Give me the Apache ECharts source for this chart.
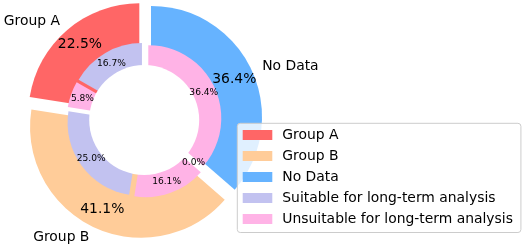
<!DOCTYPE html>
<html>
<head>
<meta charset="utf-8">
<script src="https://cdn.jsdelivr.net/npm/echarts@6/dist/echarts.min.js"></script>
<style>
html,body{margin:0;padding:0;background:#fff;}
#chart{width:527px;height:251px;}
</style>
</head>
<body>
<div id="chart"></div>
<script>
const outerNames = ['Group A', 'Group B', 'No Data'];
const outerValues = [22.5, 41.1, 36.4];
const outerColors = ['#ff6666', '#ffcc99', '#66b3ff'];
const innerNames = ['Suitable for long-term analysis', 'Unsuitable for long-term analysis',
                    'Suitable for long-term analysis', 'Unsuitable for long-term analysis',
                    'Suitable for long-term analysis', 'Unsuitable for long-term analysis'];
const innerValues = [16.7, 5.8, 25.0, 16.1, 0.0, 36.4];
const innerColors = ['#c2c2f0', '#ffb3e6', '#c2c2f0', '#ffb3e6', '#c2c2f0', '#ffb3e6'];
const legendNames = ['Group A', 'Group B', 'No Data', 'Suitable for long-term analysis', 'Unsuitable for long-term analysis'];

const FONT = 'DejaVu Sans';
const C = [144.2, 120];
const R = 111;
const pct = p => p.value.toFixed(1) + '%';

function items(names, values, colors, transparent) {
  return names.map((n, i) => ({
    name: n, value: values[i], selected: true,
    itemStyle: { color: transparent ? 'rgba(0,0,0,0)' : colors[i] }
  }));
}

const base = {
  type: 'pie', center: C, startAngle: 90, clockwise: false,
  selectedMode: 'multiple', avoidLabelOverlap: false, animation: false,
  minShowLabelAngle: 0, stillShowZeroSum: true,
  itemStyle: { borderWidth: 0 },
  emphasis: { disabled: true },
  labelLine: { show: false }
};

const chart = echarts.init(document.getElementById('chart'), null, { renderer: 'canvas' });
chart.setOption({
  animation: false,
  legend: {
    data: legendNames,
    orient: 'vertical',
    left: 237.3, top: 123.3,
    padding: [4.7, 8, 6.5, 5.4],
    itemWidth: 29.6, itemHeight: 10, itemGap: 7,
    icon: 'rect',
    selectedMode: false,
    backgroundColor: 'rgba(255,255,255,0.8)',
    borderColor: '#cccccc', borderWidth: 1, borderRadius: 3,
    textStyle: { fontFamily: FONT, fontSize: 13.9, color: '#000', lineHeight: 14, padding: [0, 0, 0, 5] }
  },
  series: [
    Object.assign({}, base, {
      name: 'outerFill', z: 1, radius: [0, R], selectedOffset: 7.5,
      data: items(outerNames, outerValues, outerColors, false),
      label: { show: true, position: 'outside', formatter: '{b}', fontFamily: FONT, fontSize: 13.9, color: '#000', distanceToLabelLine: 0, offset: [0, 2] },
      labelLine: { show: false, length: 11.1, length2: 0 }
    }),
    Object.assign({}, base, {
      name: 'innerFill', z: 2, radius: [0, 73], selectedOffset: 4.5,
      data: items(innerNames, innerValues, innerColors, false),
      label: { show: false }
    }),
    Object.assign({}, base, {
      name: 'hole', z: 3, radius: [0, 55], selectedMode: false, silent: true,
      data: [{ name: '', value: 1, itemStyle: { color: '#ffffff' } }],
      label: { show: false }
    }),
    Object.assign({}, base, {
      name: 'outerPct', z: 4, radius: [66, R], selectedOffset: 7.5, silent: true,
      data: items(outerNames, outerValues, outerColors, true),
      label: { show: true, position: 'inside', formatter: pct, fontFamily: FONT, fontSize: 13.9, color: '#000', offset: [0, 2] }
    }),
    Object.assign({}, base, {
      name: 'innerPct', z: 4, radius: [43, 73], selectedOffset: 4.5, silent: true,
      data: items(innerNames, innerValues, innerColors, true),
      label: { show: true, position: 'inside', formatter: pct, fontFamily: FONT, fontSize: 9.1, color: '#000', offset: [0, 1] }
    })
  ]
});
</script>
</body>
</html>
